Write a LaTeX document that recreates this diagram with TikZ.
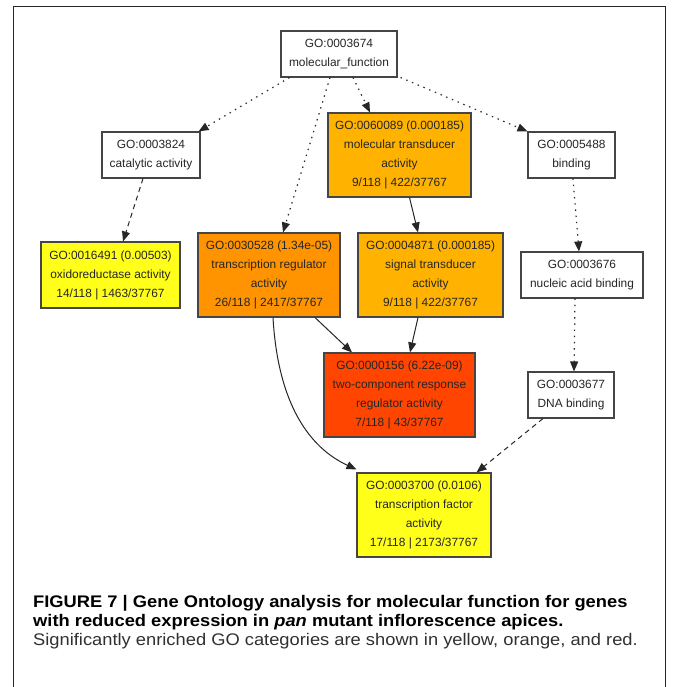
\documentclass[tikz,border=0pt]{standalone}
\usepackage{fontspec}
\setmainfont{Liberation Sans}
\usetikzlibrary{arrows.meta,calc}
\definecolor{boxgray}{HTML}{454545}
\definecolor{goyellow}{HTML}{FFFF1A}
\definecolor{goamber}{HTML}{FFB300}
\definecolor{goorange}{HTML}{FF9300}
\definecolor{gored}{HTML}{FF4500}
\definecolor{captext}{HTML}{303030}
\begin{document}
\begin{tikzpicture}[x=1pt,y=-1pt,
  gobox/.style={draw=boxgray, line width=1.1pt, rectangle, inner sep=0pt, align=center,
    font=\fontsize{11.9}{19}\selectfont, text=black!85},
  goedge/.style={line width=1pt, draw=black!85, -{Triangle[length=10pt,width=8pt]}},
  dotedge/.style={goedge, line width=1.2pt, dash pattern=on 1.4pt off 4.8pt},
  dashedge/.style={goedge, dash pattern=on 5pt off 4pt},
  capline/.style={anchor=base west, inner sep=0pt}]
\useasboundingbox (0,0) rectangle (673,687);
\fill[white] (0,0) rectangle (673,687);
\draw[line width=1.3pt, black!85] (13.5,687) -- (13.5,6.5) -- (665.5,6.5) -- (665.5,687);

\node[gobox, minimum width=116pt, minimum height=46pt] (mf) at (339,54) {GO:0003674\\molecular\_function};
\node[gobox, minimum width=98pt, minimum height=46pt] (cat) at (151,155) {GO:0003824\\catalytic activity};
\node[gobox, fill=goamber, minimum width=143pt, minimum height=84pt] (moltr) at (399.5,155) {GO:0060089 (0.000185)\\molecular transducer\\activity\\9/118 | 422/37767};
\node[gobox, minimum width=87pt, minimum height=46pt] (bind) at (571.5,155) {GO:0005488\\binding};
\node[gobox, fill=goyellow, minimum width=139pt, minimum height=66pt] (oxid) at (110.5,275) {GO:0016491 (0.00503)\\oxidoreductase activity\\14/118 | 1463/37767};
\node[gobox, fill=goorange, minimum width=142pt, minimum height=84pt] (trreg) at (269,275) {GO:0030528 (1.34e-05)\\transcription regulator\\activity\\26/118 | 2417/37767};
\node[gobox, fill=goamber, minimum width=145pt, minimum height=84pt] (sig) at (430.5,275) {GO:0004871 (0.000185)\\signal transducer\\activity\\9/118 | 422/37767};
\node[gobox, minimum width=122pt, minimum height=46pt] (nuc) at (582,275) {GO:0003676\\nucleic acid binding};
\node[gobox, fill=gored, minimum width=151pt, minimum height=84pt] (two) at (399.5,395) {GO:0000156 (6.22e-09)\\two-component response\\regulator activity\\7/118 | 43/37767};
\node[gobox, minimum width=86pt, minimum height=46pt] (dna) at (571,395) {GO:0003677\\DNA binding};
\node[gobox, fill=goyellow, minimum width=134pt, minimum height=84pt] (tf) at (424,515) {GO:0003700 (0.0106)\\transcription factor\\activity\\17/118 | 2173/37767};

\draw[dotedge] ([xshift=9pt]mf.south west) -- ([xshift=-2pt]cat.north east);
\draw[dotedge] ([xshift=-9pt]mf.south) -- ([xshift=14pt]trreg.north);
\draw[dotedge] ([xshift=14pt]mf.south) -- ([xshift=-29.5pt]moltr.north);
\draw[dotedge] ([xshift=3pt]mf.south east) -- (bind.north west);
\draw[dashedge] ([xshift=-8pt]cat.south) -- ([xshift=12.5pt]oxid.north);
\draw[goedge] ([xshift=10pt]moltr.south) -- ([xshift=-12.5pt]sig.north);
\draw[dotedge] ([xshift=1.5pt]bind.south) -- ([xshift=-3pt]nuc.north);
\draw[goedge] ([xshift=46pt]trreg.south) -- ([xshift=-47.5pt]two.north);
\draw[goedge] ([xshift=-12.5pt]sig.south) -- ([xshift=10.5pt]two.north);
\draw[goedge] ([xshift=4pt]trreg.south) .. controls (278,405) and (310,448) .. ([yshift=3pt]tf.north west);
\draw[dotedge] ([xshift=-7pt]nuc.south) -- ([xshift=3pt]dna.north);
\draw[dashedge] ([xshift=-28pt]dna.south) -- ([xshift=-15pt]tf.north east);

\node[capline, font=\fontsize{16.8}{19}\selectfont\bfseries] (cap1) at (33,607.5) {\scalebox{1.09}[1]{FIGURE 7 | Gene Ontology analysis for molecular function for genes}};
\node[capline, font=\fontsize{16.8}{19}\selectfont\bfseries] (cap2) at (33,626.5) {\scalebox{1.09}[1]{with reduced expression in \textit{pan} mutant inflorescence apices.}};
\node[capline, font=\fontsize{16.8}{19}\selectfont, text=captext] (cap3) at (33,645.5) {\scalebox{1.09}[1]{Significantly enriched GO categories are shown in yellow, orange, and red.}};
\end{tikzpicture}
\end{document}
